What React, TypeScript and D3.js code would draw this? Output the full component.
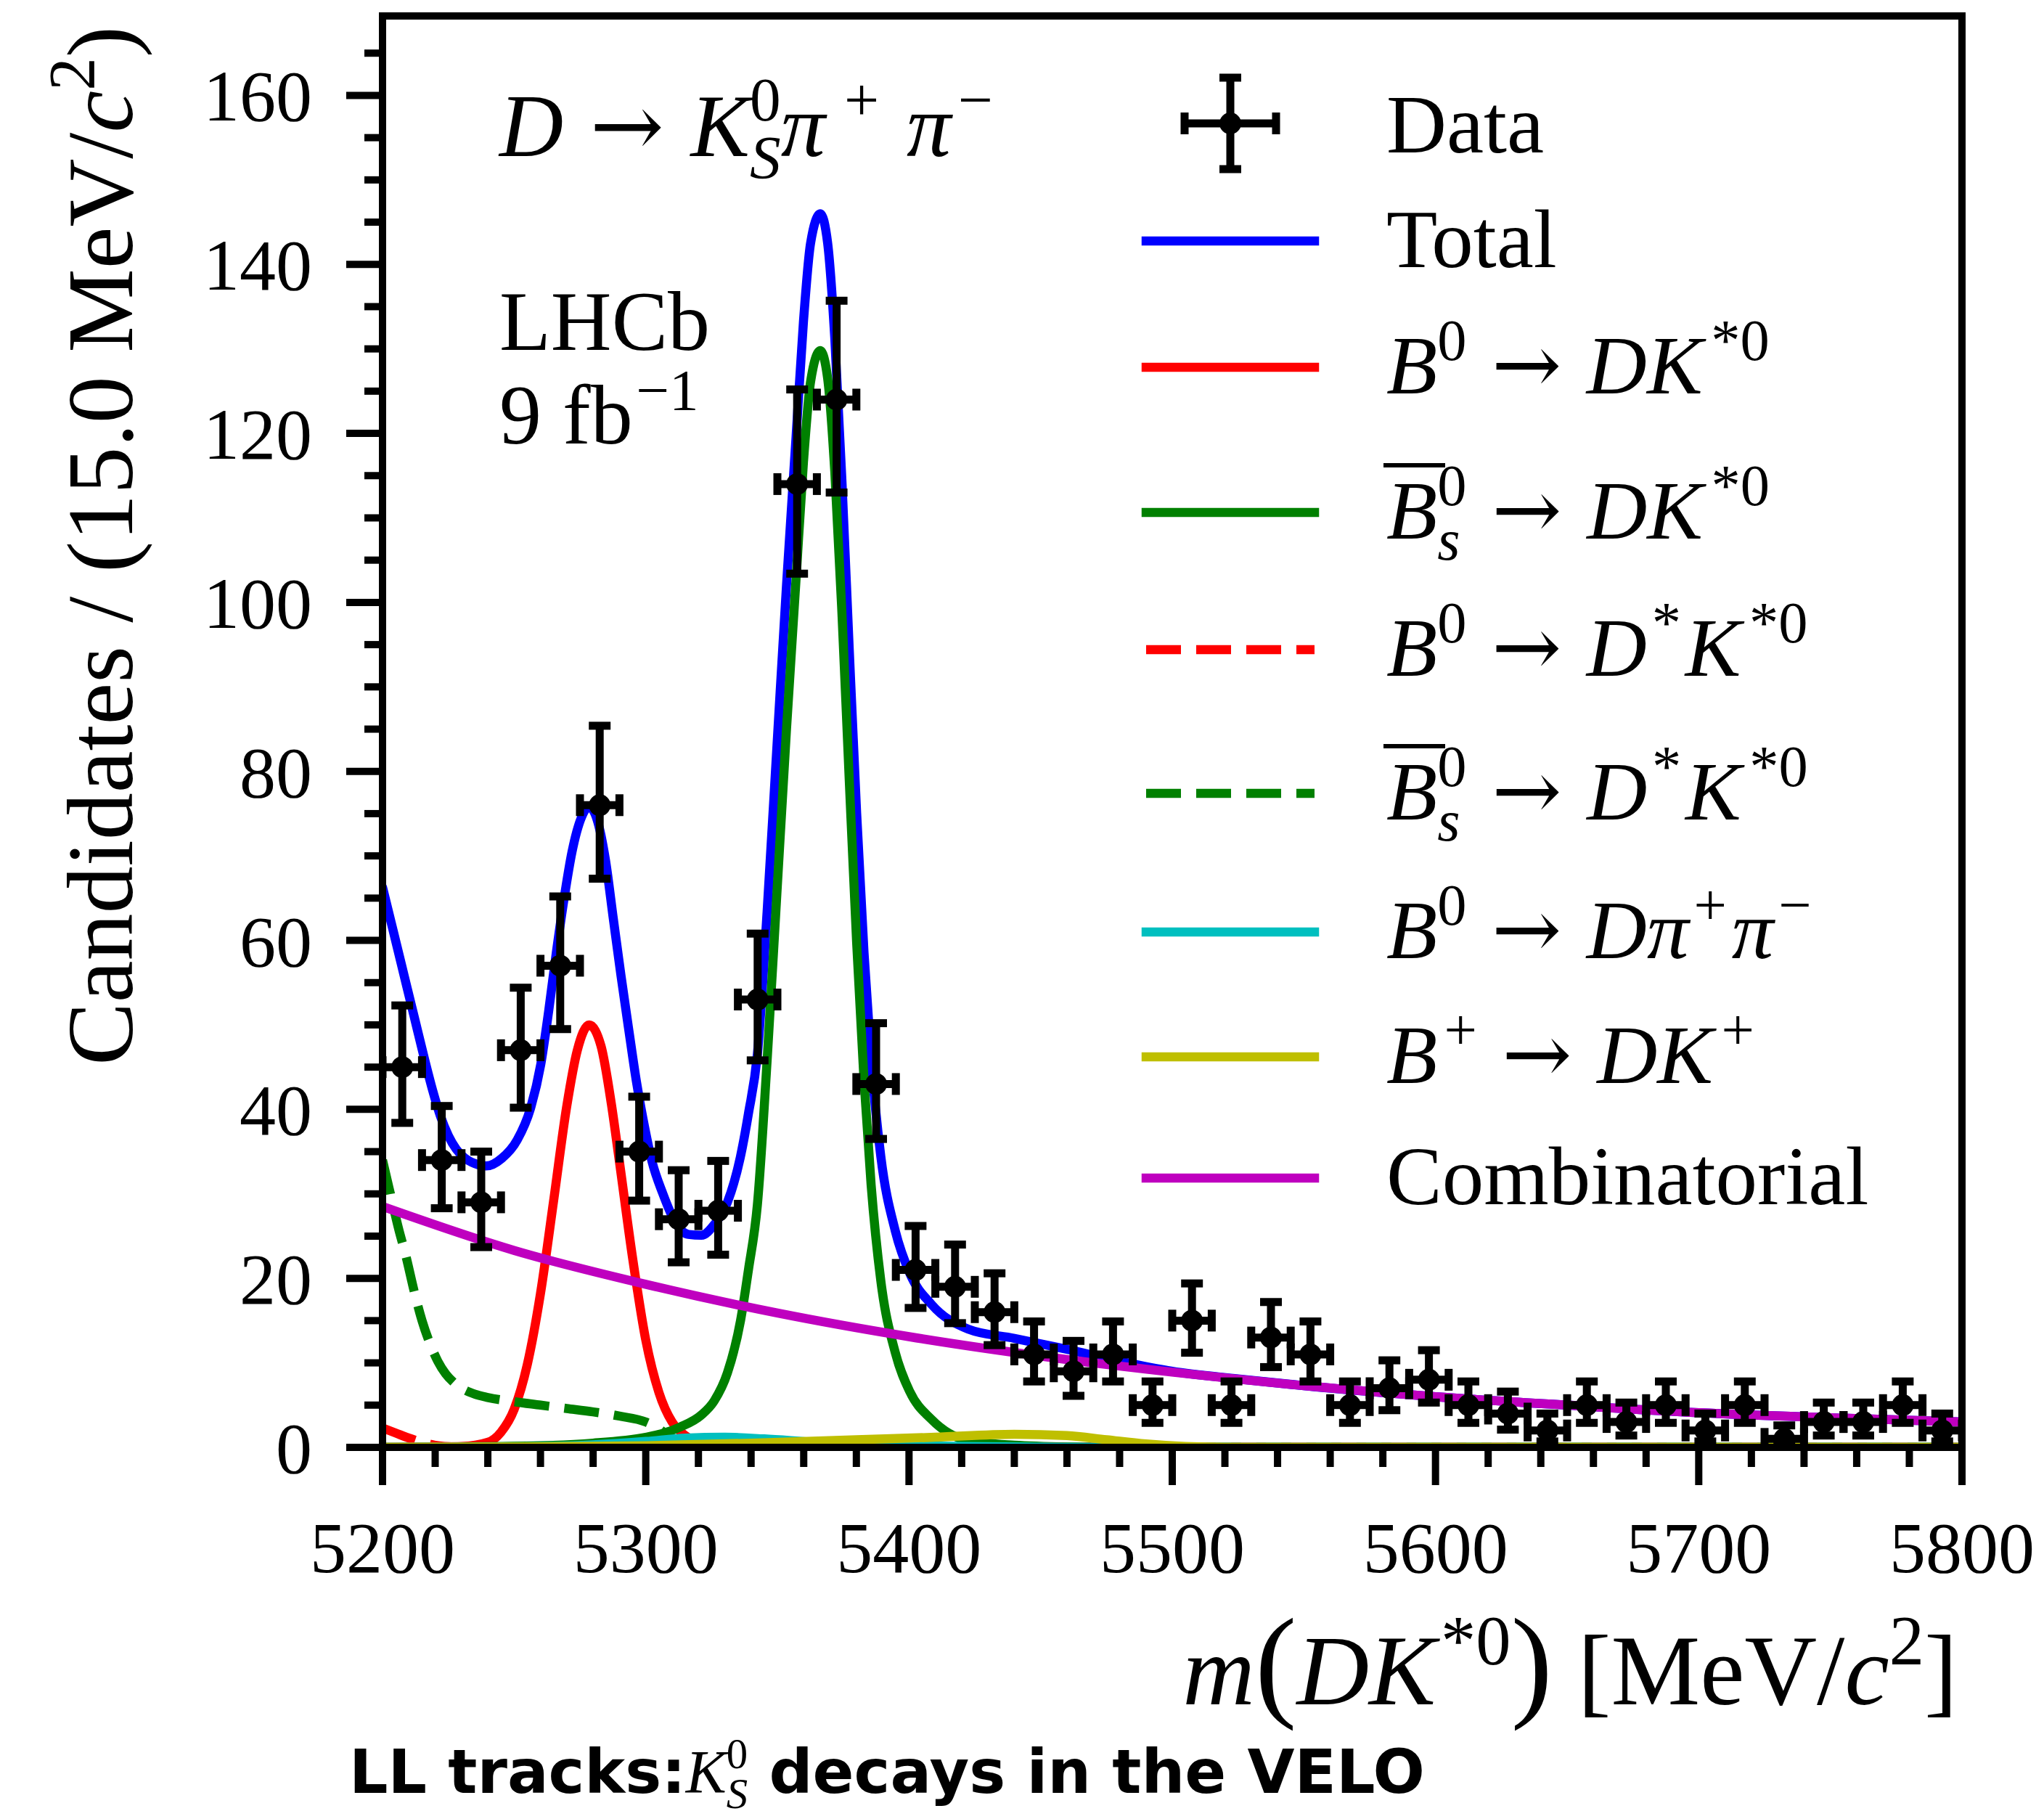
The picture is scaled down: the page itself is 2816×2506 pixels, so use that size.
import React from 'react';
import * as d3 from 'd3';

const SERIF = '"Liberation Serif", "Times New Roman", serif';
const SANS = '"DejaVu Sans", Verdana, sans-serif';
const ARROWFONT = '"DejaVu Serif", "Liberation Serif", serif';

// ---------------- data ----------------
const binCenters = [5207.5, 5222.5, 5237.5, 5252.5, 5267.5, 5282.5, 5297.5, 5312.5, 5327.5, 5342.5, 5357.5, 5372.5, 5387.5, 5402.5, 5417.5, 5432.5, 5447.5, 5462.5, 5477.5, 5492.5, 5507.5, 5522.5, 5537.5, 5552.5, 5567.5, 5582.5, 5597.5, 5612.5, 5627.5, 5642.5, 5657.5, 5672.5, 5687.5, 5702.5, 5717.5, 5732.5, 5747.5, 5762.5, 5777.5, 5792.5];
const counts = [45, 34, 29, 47, 57, 76, 35, 27, 28, 53, 114, 124, 43, 21, 19, 16, 11, 9, 11, 5, 15, 5, 13, 11, 5, 7, 8, 5, 4, 2, 5, 3, 5, 2, 5, 1, 3, 3, 5, 2];
const errHigh = [7.3, 6.4, 6.0, 7.4, 8.2, 9.4, 6.5, 5.8, 5.9, 7.8, 11.2, 11.7, 7.2, 5.2, 5.0, 4.6, 3.9, 3.6, 3.9, 2.8, 4.4, 2.8, 4.2, 3.9, 2.8, 3.3, 3.5, 2.8, 2.6, 2.0, 2.8, 2.3, 2.8, 2.0, 2.8, 1.6, 2.3, 2.3, 2.8, 2.0];
const errLow = [6.6, 5.7, 5.3, 6.8, 7.5, 8.7, 5.8, 5.1, 5.2, 7.2, 10.6, 11.0, 6.5, 4.5, 4.3, 3.9, 3.2, 2.9, 3.2, 2.1, 3.8, 2.1, 3.5, 3.2, 2.1, 2.6, 2.7, 2.1, 1.9, 1.3, 2.1, 1.6, 2.1, 1.3, 2.1, 0.8, 1.6, 1.6, 2.1, 1.3];
const binHalfWidth = 7.5;

type P = [number, number];

const totalCurve: P[] = [
  [5200, 66.3], [5204, 61.2], [5208, 56.1], [5212, 51.0], [5216, 45.9], [5219, 42.3], [5222, 39.2],
  [5225, 36.9], [5228, 35.3], [5231, 34.3], [5235, 33.6], [5239.4, 33.3], [5245.3, 34.2], [5251.2, 36.4],
  [5256.2, 40.1], [5260.1, 45.3], [5263.1, 51.6], [5266, 58.5], [5269, 65.0], [5272, 70.5], [5275.5, 74.5],
  [5278.4, 75.8], [5281.5, 74.3], [5284.7, 69.5], [5287.7, 62.5], [5290.6, 55.8], [5293.6, 49.3], [5296.5, 43.2],
  [5299.5, 38.0], [5302.4, 33.8], [5306.4, 30.1], [5311.3, 26.6], [5316.2, 25.2], [5321.1, 25.1], [5326.1, 26.4],
  [5331, 29.0], [5335.9, 34.3], [5339, 39.5], [5342.4, 46.5], [5346.1, 63.4], [5349.8, 82.8], [5353.5, 102.2],
  [5357.1, 119.6], [5359.9, 133.2], [5362.6, 142.5], [5366.3, 146.0], [5369.1, 142.5], [5371.8, 131.3],
  [5374.6, 113.8], [5377.3, 94.4], [5380.1, 75.1], [5382.9, 58.6], [5385.6, 46.0], [5389.3, 34.4], [5394.8, 25.6],
  [5400.3, 20.6], [5408.6, 16.9], [5422.4, 14.0], [5440, 12.9], [5460, 11.6], [5480, 10.2], [5500, 9.0],
  [5525, 8.1], [5550, 7.3], [5600, 6.0], [5650, 5.0], [5700, 4.1], [5750, 3.5], [5800, 3.0],
];

const b0DKCurve: P[] = [
  [5200, 0], [5220, 0.05], [5230, 0.1], [5240, 0.6], [5245, 1.8], [5250, 4.5], [5255, 9.8], [5260, 18.2],
  [5265, 29.2], [5270, 40.4], [5274, 47.0], [5278.5, 50.0], [5283, 47.5], [5287, 40.5], [5290, 33.8],
  [5295, 22.4], [5300, 12.7], [5305, 6.5], [5310, 3.0], [5315, 1.4], [5320, 0.6], [5330, 0.15], [5345, 0], [5800, 0],
];

const bsDKCurve: P[] = [
  [5200, 0], [5260, 0.2], [5280, 0.5], [5300, 1.2], [5306, 1.6], [5313, 2.4], [5321, 3.8], [5326, 5.5],
  [5331, 8.8], [5336, 15.0], [5339, 21.0], [5342.4, 28.7], [5346.1, 45.8], [5349.8, 65.5], [5353.5, 85.2],
  [5357.1, 102.8], [5359.9, 116.6], [5362.6, 126.1], [5366.3, 129.8], [5369.1, 126.5], [5371.8, 115.5],
  [5374.6, 98.2], [5377.3, 79.0], [5380.1, 59.8], [5382.9, 43.5], [5385.6, 31.1], [5389.3, 19.7], [5394.8, 11.2],
  [5400.3, 6.6], [5408.6, 3.3], [5422.4, 0.8], [5440, 0.25], [5460, 0.05], [5480, 0], [5800, 0],
];

const b0DstarCurve: P[] = [
  [5200, 2.3], [5205, 1.7], [5210, 1.1], [5215, 0.6], [5220, 0.25], [5225, 0.08], [5232, 0], [5800, 0],
];

const bsDstarCurve: P[] = [
  [5200, 34.0], [5203, 30.0], [5206, 26.0], [5209, 22.5], [5212, 18.5], [5215, 15.0], [5218, 12.3], [5221, 10.2],
  [5224, 8.7], [5227, 7.7], [5230, 7.0], [5235, 6.3], [5240, 5.9], [5250, 5.4], [5260, 5.0], [5270, 4.6],
  [5280, 4.2], [5290, 3.7], [5300, 3.0], [5305, 2.2], [5310, 1.0], [5315, 0], [5800, 0],
];

const dPiPiCurve: P[] = [
  [5200, 0], [5250, 0.05], [5280, 0.3], [5300, 0.7], [5315, 1.1], [5330, 1.2], [5345, 1.0], [5365, 0.6],
  [5390, 0.3], [5420, 0.1], [5460, 0], [5800, 0],
];

const bPlusCurve: P[] = [
  [5200, 0], [5250, 0.05], [5300, 0.2], [5340, 0.5], [5380, 0.9], [5410, 1.2], [5440, 1.55], [5460, 1.4],
  [5475, 0.9], [5490, 0.4], [5505, 0.1], [5520, 0], [5800, 0],
];

const combCurve: P[] = [
  [5200, 28.5], [5250, 23.3], [5300, 19.3], [5350, 15.9], [5400, 13.1], [5450, 10.8], [5500, 8.9],
  [5550, 7.3], [5600, 6.0], [5650, 5.0], [5700, 4.1], [5750, 3.5], [5800, 3.0],
];

const xTickLabels = [5200, 5300, 5400, 5500, 5600, 5700, 5800];
const yTickLabels = [0, 20, 40, 60, 80, 100, 120, 140, 160];
const xMinorStep = 20;
const yMinorStep = 5;

// ---------------- layout ----------------
const W = 2816;
const H = 2506;
const PL = 527, PR = 2703, PT = 22, PB = 1994;
const X_DOMAIN: [number, number] = [5200, 5800];
const Y_DOMAIN: [number, number] = [0, 169.4];

const BLUE = '#0000ff', RED = '#ff0000', GREEN = '#008000', CYAN = '#00bfbf', YELLOW = '#bfbf00', MAGENTA = '#bf00bf';
const LW = 12.5;
const DASH = '48 21';

type Seg = { t: string; it?: boolean; sup?: boolean; sub?: boolean; back?: number; fam?: string; w?: string; scale?: number; dx?: number };

function MathText({ x, y, fs, segs, anchor = 'start', family = SERIF, weight = 'normal' }:
  { x: number; y: number; fs: number; segs: Seg[]; anchor?: string; family?: string; weight?: string }) {
  let cur = 0;
  return (
    <text x={x} y={y} fontSize={fs} fontFamily={family} fontWeight={weight} textAnchor={anchor as any}
      fill="#000" style={{ whiteSpace: 'pre' }}>
      {segs.map((s, i) => {
        const small = s.sup || s.sub;
        const target = s.sup ? -0.4 * fs : s.sub ? 0.25 * fs : 0;
        const dy = target - cur;
        cur = target;
        const dxv = (s.back ? -s.back * fs : 0) + (s.dx ? s.dx * fs : 0);
        return (
          <tspan key={i}
            dy={dy !== 0 ? dy : undefined}
            dx={dxv !== 0 ? dxv : undefined}
            fontSize={small ? 0.7 * fs : s.scale ? s.scale * fs : undefined}
            fontStyle={s.it ? 'italic' : undefined}
            fontFamily={s.fam}
            fontWeight={s.w}>
            {s.t}
          </tspan>
        );
      })}
    </text>
  );
}

const SP: Seg = { t: ' ', dx: 0.05 };
const ARR: Seg = { t: '\u2192', fam: ARROWFONT, w: '300' };

type LegendEntry = { segs: Seg[]; color?: string; dashed?: boolean; marker?: boolean; bar?: boolean };

const legendEntries: LegendEntry[] = [
  { segs: [{ t: 'Data' }], marker: true },
  { segs: [{ t: 'Total' }], color: BLUE },
  { segs: [{ t: 'B', it: true }, { t: '0', sup: true }, SP, ARR, SP, { t: 'DK', it: true }, { t: '*0', sup: true, dx: 0.1 }], color: RED },
  { segs: [{ t: 'B', it: true }, { t: '0', sup: true }, { t: 's', it: true, sub: true, back: 0.35 }, { t: ' ', dx: 0.13 }, ARR, SP, { t: 'DK', it: true }, { t: '*0', sup: true, dx: 0.1 }], color: GREEN, bar: true },
  { segs: [{ t: 'B', it: true }, { t: '0', sup: true }, SP, ARR, SP, { t: 'D', it: true }, { t: '*', sup: true, dx: 0.06 }, { t: 'K', it: true, dx: 0.05 }, { t: '*0', sup: true, dx: 0.1 }], color: RED, dashed: true },
  { segs: [{ t: 'B', it: true }, { t: '0', sup: true }, { t: 's', it: true, sub: true, back: 0.35 }, { t: ' ', dx: 0.13 }, ARR, SP, { t: 'D', it: true }, { t: '*', sup: true, dx: 0.06 }, { t: 'K', it: true, dx: 0.05 }, { t: '*0', sup: true, dx: 0.1 }], color: GREEN, dashed: true, bar: true },
  { segs: [{ t: 'B', it: true }, { t: '0', sup: true }, SP, ARR, SP, { t: 'D\u03c0', it: true }, { t: '+', sup: true, dx: 0.06 }, { t: '\u03c0', it: true, dx: 0.06 }, { t: '\u2212', sup: true, dx: 0.06 }], color: CYAN },
  { segs: [{ t: 'B', it: true }, { t: '+', sup: true, dx: 0.08 }, SP, ARR, SP, { t: 'DK', it: true }, { t: '+', sup: true, dx: 0.1 }], color: YELLOW },
  { segs: [{ t: 'Combinatorial' }], color: MAGENTA },
];
const legendLineY = [170, 332, 506, 706, 895, 1093, 1284, 1456, 1623];
const legendTextX = 1910;
const legendLineX: [number, number] = [1579, 1811];
const legendFs = 115;

export default function App() {
  const x = d3.scaleLinear().domain(X_DOMAIN).range([PL, PR]);
  const y = d3.scaleLinear().domain(Y_DOMAIN).range([PB, PT]);
  const line = d3.line<P>().x(d => x(d[0])).y(d => y(d[1])).curve(d3.curveMonotoneX);

  const xMinor = d3.range(X_DOMAIN[0], X_DOMAIN[1] + 1, xMinorStep).filter(v => !xTickLabels.includes(v));
  const yMinor = d3.range(0, Y_DOMAIN[1], yMinorStep).filter(v => !yTickLabels.includes(v));

  const curves: { d: P[]; color: string; dashed?: boolean }[] = [
    { d: totalCurve, color: BLUE },
    { d: b0DKCurve, color: RED },
    { d: bsDKCurve, color: GREEN },
    { d: b0DstarCurve, color: RED, dashed: true },
    { d: bsDstarCurve, color: GREEN, dashed: true },
    { d: dPiPiCurve, color: CYAN },
    { d: bPlusCurve, color: YELLOW },
    { d: combCurve, color: MAGENTA },
  ];

  const EB = 11; // error bar width
  const CAP = 15; // cap half-length
  const MR = 15; // marker radius

  return (
    <svg width={W} height={H} viewBox={`0 0 ${W} ${H}`} style={{ position: 'absolute', left: 0, top: 0, background: '#fff' }}>
      <rect x={0} y={0} width={W} height={H} fill="#fff" />
      <defs>
        <clipPath id="plotClip">
          <rect x={PL} y={PT} width={PR - PL} height={PB - PT} />
        </clipPath>
      </defs>

      {/* curves */}
      <g clipPath="url(#plotClip)" fill="none">
        {curves.map((c, i) => (
          <path key={i} d={line(c.d) || ''} stroke={c.color} strokeWidth={LW}
            strokeDasharray={c.dashed ? DASH : undefined} strokeLinejoin="round"
            strokeLinecap={c.dashed ? 'butt' : 'round'} />
        ))}
      </g>

      {/* data */}
      <g clipPath="url(#plotClip)" stroke="#000" fill="#000">
        {binCenters.map((c, i) => {
          const cx = x(c), cy = y(counts[i]);
          const yt = y(counts[i] + errHigh[i]);
          const yb = y(counts[i] - errLow[i]);
          const xl = x(c - binHalfWidth), xr = x(c + binHalfWidth);
          return (
            <g key={i} strokeWidth={EB}>
              <line x1={cx} x2={cx} y1={yt} y2={yb} />
              <line x1={xl} x2={xr} y1={cy} y2={cy} />
              <line x1={cx - CAP} x2={cx + CAP} y1={yt} y2={yt} />
              <line x1={cx - CAP} x2={cx + CAP} y1={yb} y2={yb} />
              <line x1={xl} x2={xl} y1={cy - CAP} y2={cy + CAP} />
              <line x1={xr} x2={xr} y1={cy - CAP} y2={cy + CAP} />
              <circle cx={cx} cy={cy} r={MR} stroke="none" />
            </g>
          );
        })}
      </g>

      {/* spines */}
      <rect x={PL} y={PT} width={PR - PL} height={PB - PT} fill="none" stroke="#000" strokeWidth={10} />

      {/* ticks */}
      <g stroke="#000" strokeWidth={10}>
        {xTickLabels.map(v => <line key={'xM' + v} x1={x(v)} x2={x(v)} y1={PB} y2={PB + 52} />)}
        {xMinor.map(v => <line key={'xm' + v} x1={x(v)} x2={x(v)} y1={PB} y2={PB + 27} />)}
        {yTickLabels.map(v => <line key={'yM' + v} x1={PL - 50} x2={PL} y1={y(v)} y2={y(v)} />)}
        {yMinor.map(v => <line key={'ym' + v} x1={PL - 25} x2={PL} y1={y(v)} y2={y(v)} />)}
      </g>

      {/* tick labels */}
      <g fontFamily={SERIF} fontSize={100} fill="#000">
        {xTickLabels.map(v => (
          <text key={'xl' + v} x={x(v)} y={2166} textAnchor="middle">{v}</text>
        ))}
        {yTickLabels.map(v => (
          <text key={'yl' + v} x={430} y={y(v) + 35} textAnchor="end">{v}</text>
        ))}
      </g>

      {/* axis labels */}
      <g transform="translate(182,36) rotate(-90)">
        <MathText x={0} y={0} fs={130} anchor="end"
          segs={[{ t: 'Candidates / (15.0 MeV/' }, { t: 'c', it: true }, { t: '2', sup: true }, { t: ')' }]} />
      </g>
      <MathText x={2697} y={2348} fs={138} anchor="end"
        segs={[{ t: 'm', it: true }, { t: '(', scale: 1.25 }, { t: 'DK', it: true }, { t: '*0', sup: true, dx: 0.05 }, { t: ')', scale: 1.25 }, { t: ' [MeV/' }, { t: 'c', it: true }, { t: '2', sup: true }, { t: ']' }]} />

      {/* annotations */}
      <MathText x={688} y={215} fs={122}
        segs={[{ t: 'D', it: true }, SP, ARR, SP, { t: 'K', it: true }, { t: '0', sup: true }, { t: 'S', it: true, sub: true, back: 0.35 }, { t: '\u03c0', it: true }, { t: ' +', sup: true, dx: 0.04 }, { t: ' ', dx: 0.06 }, { t: '\u03c0', it: true }, { t: '\u2212', sup: true, dx: 0.08 }]} />
      <text x={688} y={482} fontFamily={SERIF} fontSize={116} fill="#000">LHCb</text>
      <MathText x={688} y={611} fs={116} segs={[{ t: '9 fb' }, { t: '\u22121', sup: true, dx: 0.04 }]} />

      {/* legend */}
      {legendEntries.map((e, i) => {
        const ly = legendLineY[i];
        const tb = ly + 36;
        return (
          <g key={'lg' + i}>
            {e.marker ? (
              <g stroke="#000" strokeWidth={EB}>
                <line x1={1695} x2={1695} y1={ly - 63} y2={ly + 63} />
                <line x1={1632} x2={1758} y1={ly} y2={ly} />
                <line x1={1695 - CAP} x2={1695 + CAP} y1={ly - 63} y2={ly - 63} />
                <line x1={1695 - CAP} x2={1695 + CAP} y1={ly + 63} y2={ly + 63} />
                <line x1={1632} x2={1632} y1={ly - CAP} y2={ly + CAP} />
                <line x1={1758} x2={1758} y1={ly - CAP} y2={ly + CAP} />
                <circle cx={1695} cy={ly} r={MR} fill="#000" stroke="none" />
              </g>
            ) : (
              <line x1={legendLineX[0]} x2={legendLineX[1]} y1={ly} y2={ly} stroke={e.color} strokeWidth={LW}
                strokeDasharray={e.dashed ? DASH : undefined} strokeLinecap={e.dashed ? 'butt' : 'square'} />
            )}
            <MathText x={legendTextX} y={e.marker ? 210 : tb} fs={legendFs} segs={e.segs} />
            {e.bar && (
              <line x1={legendTextX - 4} x2={legendTextX + 81} y1={tb - 101} y2={tb - 101} stroke="#000" strokeWidth={6} />
            )}
          </g>
        );
      })}

      {/* caption */}
      <MathText x={481} y={2470} fs={84} family={SANS} weight="bold"
        segs={[{ t: 'LL tracks:' }, { t: 'K', it: true, fam: SERIF, w: 'normal' }, { t: '0', sup: true, fam: SERIF, w: 'normal' }, { t: 'S', sub: true, it: true, back: 0.35, fam: SERIF, w: 'normal' }, { t: ' decays in the VELO' }]} />
    </svg>
  );
}
